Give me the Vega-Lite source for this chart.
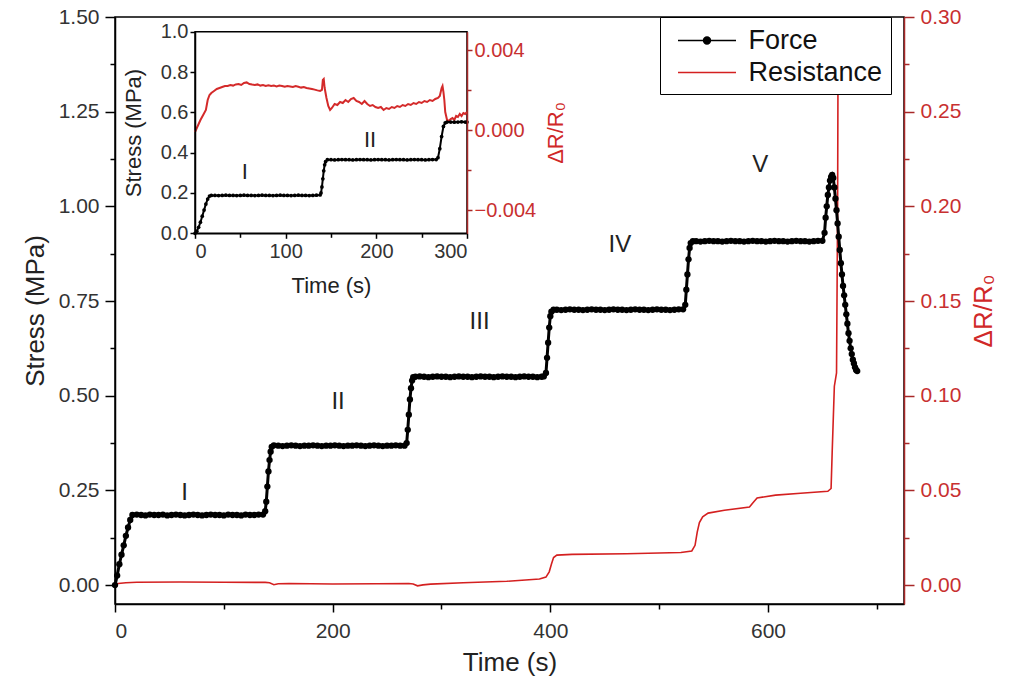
{
"$schema": "https://vega.github.io/schema/vega-lite/v6.json",
"width": 789, "height": 587,
"autosize": {"type": "none"},
"padding": {"left": 115, "top": 17, "right": 109, "bottom": 84},
"background": "white",
"config": {
 "view": {"stroke": "black", "strokeWidth": 1.5},
 "font": "Liberation Sans",
 "axis": {"labelFont": "Liberation Sans", "titleFont": "Liberation Sans", "titleFontWeight": "normal", "grid": false, "domainColor": "black", "tickColor": "black", "labelColor": "#333", "titleColor": "#222", "domainWidth": 1.5, "tickWidth": 1.5}
},
"datasets": {
 "force": [
  {"t":0,"v":0},{"t":2,"v":0.025},{"t":4,"v":0.055},{"t":6,"v":0.08},{"t":8,"v":0.105},{"t":10,"v":0.13},{"t":12,"v":0.152},{"t":14,"v":0.172},{"t":16,"v":0.185},
  {"t":20,"v":0.186},{"t":24,"v":0.185},{"t":28,"v":0.184},{"t":32,"v":0.186},{"t":36,"v":0.185},{"t":40,"v":0.185},{"t":44,"v":0.186},{"t":48,"v":0.184},{"t":52,"v":0.185},{"t":56,"v":0.186},{"t":60,"v":0.185},{"t":64,"v":0.184},{"t":68,"v":0.185},{"t":72,"v":0.186},{"t":76,"v":0.185},{"t":80,"v":0.184},{"t":84,"v":0.185},{"t":88,"v":0.186},{"t":92,"v":0.185},{"t":96,"v":0.185},{"t":100,"v":0.184},{"t":104,"v":0.186},{"t":108,"v":0.185},{"t":112,"v":0.185},{"t":116,"v":0.184},{"t":120,"v":0.186},{"t":124,"v":0.185},{"t":128,"v":0.185},{"t":132,"v":0.186},{"t":136,"v":0.186},
  {"t":138,"v":0.195},{"t":139,"v":0.22},{"t":140,"v":0.26},{"t":141,"v":0.3},{"t":142,"v":0.33},{"t":143,"v":0.352},{"t":144,"v":0.365},{"t":146,"v":0.369},
  {"t":150,"v":0.368},{"t":154,"v":0.367},{"t":158,"v":0.368},{"t":162,"v":0.369},{"t":166,"v":0.368},{"t":170,"v":0.367},{"t":174,"v":0.368},{"t":178,"v":0.368},{"t":182,"v":0.369},{"t":186,"v":0.368},{"t":190,"v":0.367},{"t":194,"v":0.368},{"t":198,"v":0.368},{"t":202,"v":0.369},{"t":206,"v":0.368},{"t":210,"v":0.367},{"t":214,"v":0.368},{"t":218,"v":0.368},{"t":222,"v":0.369},{"t":226,"v":0.368},{"t":230,"v":0.367},{"t":234,"v":0.368},{"t":238,"v":0.369},{"t":242,"v":0.368},{"t":246,"v":0.367},{"t":250,"v":0.368},{"t":254,"v":0.368},{"t":258,"v":0.369},{"t":262,"v":0.368},{"t":266,"v":0.368},
  {"t":268,"v":0.375},{"t":269,"v":0.41},{"t":270,"v":0.45},{"t":271,"v":0.49},{"t":272,"v":0.52},{"t":273,"v":0.54},{"t":274,"v":0.549},{"t":276,"v":0.55},
  {"t":280,"v":0.551},{"t":284,"v":0.55},{"t":288,"v":0.549},{"t":292,"v":0.55},{"t":296,"v":0.551},{"t":300,"v":0.55},{"t":304,"v":0.55},{"t":308,"v":0.549},{"t":312,"v":0.55},{"t":316,"v":0.551},{"t":320,"v":0.55},{"t":324,"v":0.55},{"t":328,"v":0.549},{"t":332,"v":0.55},{"t":336,"v":0.551},{"t":340,"v":0.55},{"t":344,"v":0.55},{"t":348,"v":0.549},{"t":352,"v":0.55},{"t":356,"v":0.551},{"t":360,"v":0.55},{"t":364,"v":0.55},{"t":368,"v":0.549},{"t":372,"v":0.55},{"t":376,"v":0.551},{"t":380,"v":0.55},{"t":384,"v":0.55},{"t":388,"v":0.549},{"t":392,"v":0.55},{"t":394,"v":0.551},
  {"t":396,"v":0.56},{"t":397,"v":0.6},{"t":398,"v":0.64},{"t":399,"v":0.68},{"t":400,"v":0.71},{"t":401,"v":0.722},{"t":403,"v":0.727},
  {"t":406,"v":0.727},{"t":410,"v":0.726},{"t":414,"v":0.727},{"t":418,"v":0.728},{"t":422,"v":0.727},{"t":426,"v":0.727},{"t":430,"v":0.726},{"t":434,"v":0.727},{"t":438,"v":0.728},{"t":442,"v":0.727},{"t":446,"v":0.727},{"t":450,"v":0.726},{"t":454,"v":0.727},{"t":458,"v":0.728},{"t":462,"v":0.727},{"t":466,"v":0.727},{"t":470,"v":0.726},{"t":474,"v":0.727},{"t":478,"v":0.728},{"t":482,"v":0.727},{"t":486,"v":0.727},{"t":490,"v":0.726},{"t":494,"v":0.727},{"t":498,"v":0.728},{"t":502,"v":0.727},{"t":506,"v":0.727},{"t":510,"v":0.726},{"t":514,"v":0.727},{"t":518,"v":0.728},{"t":522,"v":0.728},
  {"t":524,"v":0.74},{"t":525,"v":0.78},{"t":526,"v":0.82},{"t":527,"v":0.86},{"t":528,"v":0.89},{"t":529,"v":0.903},{"t":531,"v":0.908},
  {"t":534,"v":0.908},{"t":538,"v":0.907},{"t":542,"v":0.908},{"t":546,"v":0.909},{"t":550,"v":0.908},{"t":554,"v":0.908},{"t":558,"v":0.907},{"t":562,"v":0.908},{"t":566,"v":0.909},{"t":570,"v":0.908},{"t":574,"v":0.908},{"t":578,"v":0.907},{"t":582,"v":0.908},{"t":586,"v":0.909},{"t":590,"v":0.908},{"t":594,"v":0.908},{"t":598,"v":0.907},{"t":602,"v":0.908},{"t":606,"v":0.909},{"t":610,"v":0.908},{"t":614,"v":0.908},{"t":618,"v":0.907},{"t":622,"v":0.908},{"t":626,"v":0.909},{"t":630,"v":0.908},{"t":634,"v":0.908},{"t":638,"v":0.907},{"t":642,"v":0.908},{"t":646,"v":0.909},{"t":650,"v":0.909},
  {"t":652,"v":0.93},{"t":653,"v":0.97},{"t":654,"v":1.0},{"t":655,"v":1.03},{"t":656,"v":1.05},{"t":657,"v":1.068},{"t":658,"v":1.078},{"t":659,"v":1.083},
  {"t":660,"v":1.075},{"t":661,"v":1.05},{"t":662,"v":1.02},{"t":663,"v":0.99},{"t":664,"v":0.955},{"t":665,"v":0.92},{"t":666,"v":0.885},{"t":667,"v":0.85},{"t":668,"v":0.82},{"t":669,"v":0.79},{"t":670,"v":0.765},{"t":671,"v":0.74},{"t":672,"v":0.715},{"t":673,"v":0.69},{"t":674,"v":0.665},{"t":675,"v":0.645},{"t":676,"v":0.625},{"t":677,"v":0.61},{"t":678,"v":0.595},{"t":679,"v":0.585},{"t":680,"v":0.575},{"t":681,"v":0.568},{"t":682,"v":0.565}
 ],
 "res": [
  {"t":0,"r":0},{"t":3,"r":0.0008},{"t":10,"r":0.0012},{"t":20,"r":0.0015},{"t":60,"r":0.0016},{"t":100,"r":0.0015},{"t":138,"r":0.0014},{"t":142,"r":0.0012},{"t":146,"r":0.0002},{"t":150,"r":0.0007},{"t":160,"r":0.0008},{"t":200,"r":0.0006},{"t":240,"r":0.0007},{"t":270,"r":0.0008},{"t":274,"r":0.0006},{"t":278,"r":-0.0004},{"t":283,"r":0.0001},{"t":290,"r":0.0005},{"t":320,"r":0.0012},{"t":360,"r":0.002},{"t":390,"r":0.0032},{"t":396,"r":0.0042},{"t":399,"r":0.007},{"t":401,"r":0.011},{"t":403,"r":0.0145},{"t":406,"r":0.0158},{"t":420,"r":0.0162},{"t":470,"r":0.0165},{"t":520,"r":0.0172},{"t":530,"r":0.018},{"t":533,"r":0.021},{"t":535,"r":0.028},{"t":537,"r":0.033},{"t":540,"r":0.036},{"t":545,"r":0.038},{"t":560,"r":0.0395},{"t":583,"r":0.0412},{"t":587,"r":0.044},{"t":590,"r":0.046},{"t":607,"r":0.0475},{"t":630,"r":0.0485},{"t":655,"r":0.0495},{"t":658,"r":0.051},{"t":659,"r":0.07},{"t":661,"r":0.105},{"t":663,"r":0.112},{"t":664,"r":0.2},{"t":665,"r":0.4}
 ],
 "iforce": [
  {"t":0,"v":0},{"t":2,"v":0.01},{"t":4,"v":0.03},{"t":6,"v":0.055},{"t":8,"v":0.085},{"t":10,"v":0.115},{"t":12,"v":0.145},{"t":14,"v":0.17},{"t":16,"v":0.185},{"t":18,"v":0.188},
  {"t":22,"v":0.188},{"t":26,"v":0.187},{"t":30,"v":0.188},{"t":34,"v":0.189},{"t":38,"v":0.188},{"t":42,"v":0.188},{"t":46,"v":0.187},{"t":50,"v":0.188},{"t":54,"v":0.189},{"t":58,"v":0.188},{"t":62,"v":0.188},{"t":66,"v":0.187},{"t":70,"v":0.188},{"t":74,"v":0.189},{"t":78,"v":0.188},{"t":82,"v":0.188},{"t":86,"v":0.187},{"t":90,"v":0.188},{"t":94,"v":0.189},{"t":98,"v":0.188},{"t":102,"v":0.188},{"t":106,"v":0.187},{"t":110,"v":0.188},{"t":114,"v":0.189},{"t":118,"v":0.188},{"t":122,"v":0.188},{"t":126,"v":0.187},{"t":130,"v":0.188},{"t":134,"v":0.189},{"t":138,"v":0.19},
  {"t":139,"v":0.2},{"t":140,"v":0.23},{"t":141,"v":0.27},{"t":142,"v":0.31},{"t":143,"v":0.34},{"t":144,"v":0.355},{"t":146,"v":0.365},
  {"t":150,"v":0.365},{"t":154,"v":0.364},{"t":158,"v":0.365},{"t":162,"v":0.366},{"t":166,"v":0.365},{"t":170,"v":0.365},{"t":174,"v":0.364},{"t":178,"v":0.365},{"t":182,"v":0.366},{"t":186,"v":0.365},{"t":190,"v":0.365},{"t":194,"v":0.364},{"t":198,"v":0.365},{"t":202,"v":0.366},{"t":206,"v":0.365},{"t":210,"v":0.365},{"t":214,"v":0.364},{"t":218,"v":0.365},{"t":222,"v":0.366},{"t":226,"v":0.365},{"t":230,"v":0.365},{"t":234,"v":0.364},{"t":238,"v":0.365},{"t":242,"v":0.366},{"t":246,"v":0.365},{"t":250,"v":0.365},{"t":254,"v":0.364},{"t":258,"v":0.365},{"t":262,"v":0.366},{"t":266,"v":0.366},
  {"t":268,"v":0.375},{"t":270,"v":0.42},{"t":272,"v":0.48},{"t":274,"v":0.53},{"t":276,"v":0.548},{"t":278,"v":0.552},{"t":282,"v":0.552},{"t":286,"v":0.551},{"t":290,"v":0.552},{"t":294,"v":0.553},{"t":298,"v":0.552},{"t":300,"v":0.552}
 ],
 "ires": [
  {"t":0,"r":-0.0001},{"t":3,"r":0.0002},{"t":6,"r":0.0005},{"t":9,"r":0.00075},{"t":12,"r":0.001},{"t":14,"r":0.0015},{"t":16,"r":0.00175},{"t":18,"r":0.00185},{"t":21,"r":0.00195},{"t":24,"r":0.00205},{"t":27,"r":0.0021},{"t":30,"r":0.00215},{"t":33,"r":0.0022},{"t":36,"r":0.0022},{"t":39,"r":0.00225},{"t":42,"r":0.00222},{"t":45,"r":0.00228},{"t":48,"r":0.0023},{"t":51,"r":0.00225},{"t":54,"r":0.00235},{"t":57,"r":0.00238},{"t":60,"r":0.0023},{"t":63,"r":0.00227},{"t":66,"r":0.00225},{"t":69,"r":0.00228},{"t":72,"r":0.00222},{"t":75,"r":0.00225},{"t":78,"r":0.0022},{"t":81,"r":0.00224},{"t":84,"r":0.0022},{"t":87,"r":0.00222},{"t":90,"r":0.00218},{"t":93,"r":0.00222},{"t":96,"r":0.0022},{"t":99,"r":0.00216},{"t":102,"r":0.0022},{"t":105,"r":0.00218},{"t":108,"r":0.00215},{"t":111,"r":0.0022},{"t":114,"r":0.00216},{"t":117,"r":0.00212},{"t":120,"r":0.00215},{"t":123,"r":0.0021},{"t":126,"r":0.00208},{"t":129,"r":0.00205},{"t":132,"r":0.00202},{"t":135,"r":0.00198},{"t":138,"r":0.00195},{"t":140,"r":0.002},{"t":141,"r":0.0025},{"t":142,"r":0.00255},{"t":143,"r":0.0021},{"t":145,"r":0.0016},{"t":147,"r":0.0012},{"t":149,"r":0.001},{"t":151,"r":0.0011},{"t":154,"r":0.0013},{"t":157,"r":0.00125},{"t":160,"r":0.0014},{"t":163,"r":0.00135},{"t":166,"r":0.0015},{"t":169,"r":0.0014},{"t":172,"r":0.00155},{"t":175,"r":0.0016},{"t":178,"r":0.00145},{"t":181,"r":0.0014},{"t":184,"r":0.0013},{"t":187,"r":0.00145},{"t":190,"r":0.0013},{"t":193,"r":0.0012},{"t":196,"r":0.00125},{"t":199,"r":0.00115},{"t":202,"r":0.0011},{"t":205,"r":0.00115},{"t":208,"r":0.001},{"t":211,"r":0.0011},{"t":214,"r":0.00105},{"t":217,"r":0.00115},{"t":220,"r":0.0011},{"t":223,"r":0.0012},{"t":226,"r":0.00115},{"t":229,"r":0.00125},{"t":232,"r":0.0012},{"t":235,"r":0.0013},{"t":238,"r":0.00125},{"t":241,"r":0.00135},{"t":244,"r":0.0013},{"t":247,"r":0.0014},{"t":250,"r":0.00135},{"t":253,"r":0.00145},{"t":256,"r":0.0014},{"t":259,"r":0.0015},{"t":262,"r":0.00145},{"t":265,"r":0.00155},{"t":268,"r":0.0016},{"t":270,"r":0.0017},{"t":272,"r":0.0021},{"t":273,"r":0.0022},{"t":274,"r":0.0019},{"t":275,"r":0.0015},{"t":276,"r":0.0009},{"t":278,"r":0.0005},{"t":280,"r":0.00045},{"t":282,"r":0.00055},{"t":284,"r":0.0006},{"t":286,"r":0.0005},{"t":288,"r":0.0007},{"t":290,"r":0.00065},{"t":292,"r":0.0008},{"t":294,"r":0.0007},{"t":296,"r":0.00085},{"t":298,"r":0.0008},{"t":300,"r":0.0009}
 ],
 "roman": [
  {"t":64,"v":0.243,"label":"I"},{"t":205,"v":0.483,"label":"II"},{"t":335,"v":0.694,"label":"III"},{"t":464,"v":0.898,"label":"IV"},{"t":593,"v":1.109,"label":"V"}
 ],
 "iroman": [
  {"t":55,"v":0.304,"label":"I"},{"t":193,"v":0.463,"label":"II"}
 ],
 "frame": [{"x0":0,"x1":300,"y0":0,"y1":1}],
 "dummy": [{"t":0,"v":0}]
},
"layer": [
 {
  "data": {"name": "dummy"},
  "mark": {"type": "point", "opacity": 0},
  "encoding": {
   "x": {"field": "t", "type": "quantitative", "scale": {"domain": [0, 725], "nice": false, "zero": false}, "axis": {"orient": "bottom", "values": [100, 300, 500, 700], "labels": false, "domain": false, "tickSize": 5, "title": null}},
   "y": {"field": "v", "type": "quantitative", "scale": {"domain": [-0.05, 1.5], "nice": false, "zero": false}, "axis": {"orient": "left", "values": [0.125, 0.375, 0.625, 0.875, 1.125, 1.375], "labels": false, "domain": false, "tickSize": 5, "title": null}}
  }
 },
 {
  "data": {"name": "dummy"},
  "mark": {"type": "point", "opacity": 0},
  "encoding": {
   "x": {"field": "t", "type": "quantitative", "scale": {"domain": [0, 725], "nice": false, "zero": false}, "axis": null},
   "y": {"field": "v", "type": "quantitative", "scale": {"domain": [-0.01, 0.3], "nice": false, "zero": false}, "axis": {"orient": "right", "values": [0.025, 0.075, 0.125, 0.175, 0.225, 0.275], "labels": false, "domain": false, "tickSize": 5, "tickColor": "#a82828", "title": null}}
  }
 },
 {
  "data": {"name": "res"},
  "mark": {"type": "line", "strokeWidth": 1.6, "clip": true},
  "encoding": {
   "x": {"field": "t", "type": "quantitative", "scale": {"domain": [0, 725], "nice": false, "zero": false}, "axis": null},
   "y": {"field": "r", "type": "quantitative", "scale": {"domain": [-0.01, 0.3], "nice": false, "zero": false}, "axis": {"orient": "right", "values": [0, 0.05, 0.1, 0.15, 0.2, 0.25, 0.3], "format": ".2f", "tickSize": 10, "labelFontSize": 21, "labelPadding": 6, "labelColor": "#c83030", "tickColor": "#a82828", "domainColor": "#a82828", "title": "ΔR/R₀", "titleColor": "#d02828", "titleFontSize": 26, "titleAngle": 270, "titleBaseline": "top", "titlePadding": 10}},
   "color": {"datum": "Resistance", "type": "nominal"}
  }
 },
 {
  "data": {"name": "force"},
  "mark": {"type": "line", "strokeWidth": 3, "point": {"filled": true, "size": 40}},
  "encoding": {
   "x": {"field": "t", "type": "quantitative", "scale": {"domain": [0, 725], "nice": false, "zero": false}, "axis": {"orient": "bottom", "values": [0, 200, 400, 600], "tickSize": 8, "labelFontSize": 21, "labelPadding": 8, "title": "Time (s)", "titleFontSize": 26, "titlePadding": 8}},
   "y": {"field": "v", "type": "quantitative", "scale": {"domain": [-0.05, 1.5], "nice": false, "zero": false}, "axis": {"orient": "left", "values": [0, 0.25, 0.5, 0.75, 1, 1.25, 1.5], "format": ".2f", "tickSize": 10, "labelFontSize": 21, "labelPadding": 6, "title": "Stress (MPa)", "titleFontSize": 26, "titlePadding": 10}},
   "color": {"datum": "Force", "type": "nominal", "scale": {"domain": ["Force", "Resistance"], "range": ["black", "#d42020"]},
    "legend": {"orient": "none", "legendX": 545, "legendY": 0, "title": null, "labelFontSize": 27, "labelFont": "Liberation Sans", "labelColor": "#111", "labelExpr": "datum.label + '  '", "symbolSize": 841, "symbolOffset": 23.5, "labelOffset": 26, "padding": 8, "rowPadding": 3, "strokeColor": "black", "fillColor": "white", "symbolStrokeWidth": 1.5,
     "encode": {"symbols": {"update": {
      "shape": {"signal": "datum.value === 'Force' ? 'M-2,0L2,0M-0.24,0A0.24,0.24,0,1,0,0.24,0A0.24,0.24,0,1,0,-0.24,0' : 'M-2,0L2,0'"},
      "fill": {"signal": "datum.value === 'Force' ? 'black' : 'transparent'"},
      "stroke": {"signal": "datum.value === 'Force' ? 'black' : '#d42020'"},
      "strokeWidth": {"value": 1.5},
      "opacity": {"value": 1}}}}}}
  }
 },
 {
  "data": {"name": "roman"},
  "mark": {"type": "text", "fontSize": 24, "font": "Liberation Sans", "color": "#222"},
  "encoding": {
   "x": {"field": "t", "type": "quantitative", "scale": {"domain": [0, 725], "nice": false, "zero": false}, "axis": null},
   "y": {"field": "v", "type": "quantitative", "scale": {"domain": [-0.05, 1.5], "nice": false, "zero": false}, "axis": null},
   "text": {"field": "label"}
  }
 },
 {
  "data": {"name": "frame"},
  "mark": {"type": "rect", "filled": false, "stroke": "black", "strokeWidth": 1.5},
  "encoding": {
   "x": {"field": "x0", "type": "quantitative", "scale": {"domain": [0, 300], "range": [80, 352], "nice": false, "zero": false}, "axis": null},
   "x2": {"field": "x1"},
   "y": {"field": "y0", "type": "quantitative", "scale": {"domain": [0, 1], "range": [216.3, 14.7], "nice": false, "zero": false}, "axis": null},
   "y2": {"field": "y1"}
  }
 },
 {
  "data": {"name": "dummy"},
  "mark": {"type": "point", "opacity": 0},
  "encoding": {
   "x": {"field": "t", "type": "quantitative", "scale": {"domain": [0, 300], "range": [80, 352], "nice": false, "zero": false}, "axis": {"orient": "bottom", "offset": -370.7, "values": [50, 150, 250], "labels": false, "domain": false, "tickSize": 4, "title": null, "zindex": 1}},
   "y": {"field": "v", "type": "quantitative", "scale": {"domain": [-0.005165, 0.004915], "range": [216.3, 14.7], "nice": false, "zero": false}, "axis": {"orient": "right", "offset": -437, "values": [-0.002, 0.002], "labels": false, "domain": false, "tickSize": 4, "tickColor": "#a82828", "title": null, "zindex": 1}}
  }
 },
 {
  "data": {"name": "ires"},
  "mark": {"type": "line", "strokeWidth": 2, "color": "#d42a2a"},
  "encoding": {
   "x": {"field": "t", "type": "quantitative", "scale": {"domain": [0, 300], "range": [80, 352], "nice": false, "zero": false}, "axis": null},
   "y": {"field": "r", "type": "quantitative", "scale": {"domain": [-0.005165, 0.004915], "range": [216.3, 14.7], "nice": false, "zero": false}, "axis": {"orient": "right", "offset": -437, "values": [-0.004, 0, 0.004], "format": ".3f", "tickSize": 5, "labelFontSize": 20, "labelPadding": 2, "labelColor": "#c83030", "tickColor": "#a82828", "domainColor": "#a82828", "title": "ΔR/R₀", "titleColor": "#d02828", "titleFontSize": 22, "titleAngle": 270, "titleBaseline": "top", "titlePadding": 10, "zindex": 1}}
  }
 },
 {
  "data": {"name": "iforce"},
  "mark": {"type": "line", "color": "black", "strokeWidth": 2, "point": {"filled": true, "size": 14, "color": "black"}},
  "encoding": {
   "x": {"field": "t", "type": "quantitative", "scale": {"domain": [0, 300], "range": [80, 352], "nice": false, "zero": false}, "axis": {"orient": "bottom", "offset": -370.7, "values": [0, 100, 200, 300], "tickSize": 5, "labelFontSize": 20, "labelPadding": 3, "title": "Time (s)", "titleFontSize": 22, "titlePadding": 14, "zindex": 1}},
   "y": {"field": "v", "type": "quantitative", "scale": {"domain": [0, 1], "range": [216.3, 14.7], "nice": false, "zero": false}, "axis": {"orient": "left", "offset": -80, "values": [0, 0.2, 0.4, 0.6, 0.8, 1], "format": ".1f", "tickSize": 5, "labelFontSize": 20, "labelPadding": 2, "title": "Stress (MPa)", "titleFontSize": 22, "titlePadding": 15, "zindex": 1}}
  }
 },
 {
  "data": {"name": "iroman"},
  "mark": {"type": "text", "fontSize": 22, "font": "Liberation Sans", "color": "#222"},
  "encoding": {
   "x": {"field": "t", "type": "quantitative", "scale": {"domain": [0, 300], "range": [80, 352], "nice": false, "zero": false}, "axis": null},
   "y": {"field": "v", "type": "quantitative", "scale": {"domain": [0, 1], "range": [216.3, 14.7], "nice": false, "zero": false}, "axis": null},
   "text": {"field": "label"}
  }
 }
],
"resolve": {"scale": {"x": "independent", "y": "independent"}, "axis": {"x": "independent", "y": "independent"}}
}
